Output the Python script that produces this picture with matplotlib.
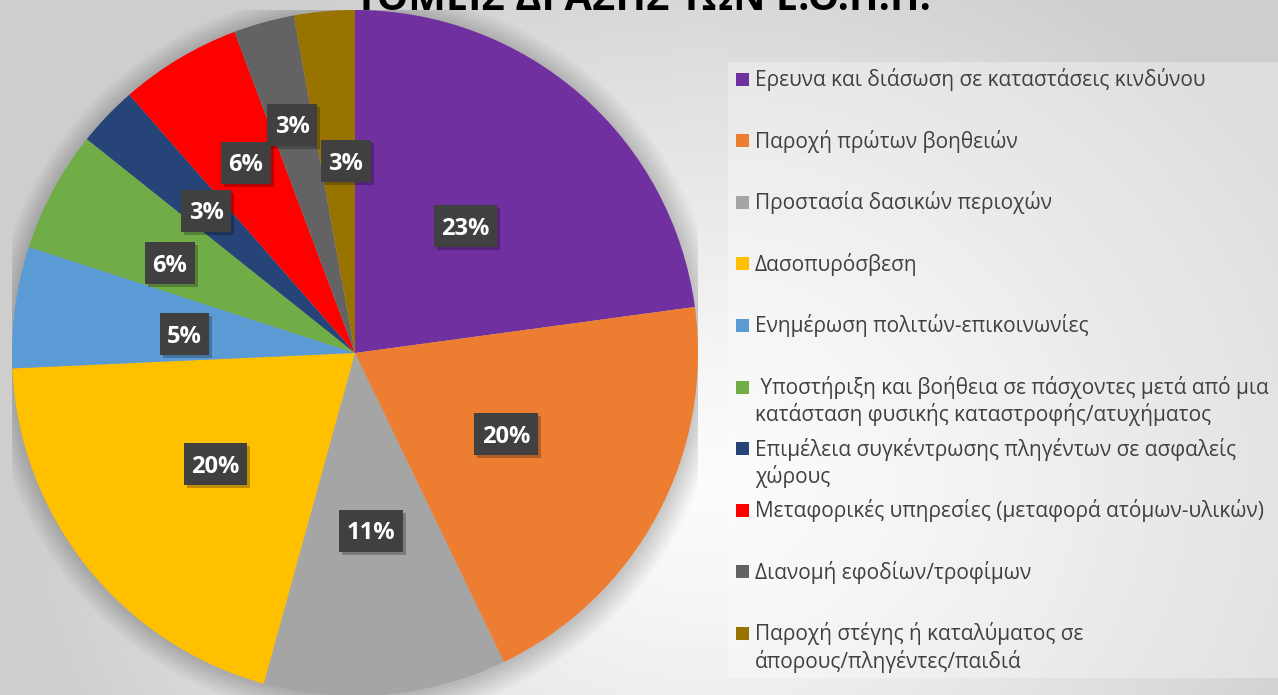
import numpy as np
import matplotlib
matplotlib.use('Agg')
import matplotlib.pyplot as plt
from matplotlib.patches import Rectangle, Circle
from matplotlib.transforms import offset_copy

# ---------------- data ----------------
title = 'ΤΟΜΕΙΣ ΔΡΑΣΗΣ ΤΩΝ Ε.Ο.Π.Π.'
categories = [
    'Ερευνα και διάσωση σε καταστάσεις κινδύνου',
    'Παροχή πρώτων βοηθειών',
    'Προστασία δασικών περιοχών',
    'Δασοπυρόσβεση',
    'Ενημέρωση πολιτών-επικοινωνίες',
    ' Υποστήριξη και βοήθεια σε πάσχοντες μετά από μια\nκατάσταση φυσικής καταστροφής/ατυχήματος',
    'Επιμέλεια συγκέντρωσης πληγέντων σε ασφαλείς\nχώρους',
    'Μεταφορικές υπηρεσίες (μεταφορά ατόμων-υλικών)',
    'Διανομή εφοδίων/τροφίμων',
    'Παροχή στέγης ή καταλύματος σε\nάπορους/πληγέντες/παιδιά',
]
counts = [8, 7, 4, 7, 2, 2, 1, 2, 1, 1]
pct_labels = ['23%', '20%', '11%', '20%', '5%', '6%', '3%', '6%', '3%', '3%']
colors = ['#7030A0', '#ED7D31', '#A5A5A5', '#FFC000', '#5B9BD5',
          '#70AD47', '#264478', '#FF0000', '#636363', '#997300']

# ---------------- figure ----------------
W, H = 1278, 695
fig = plt.figure(figsize=(W / 100, H / 100), dpi=100)

FONT = ['Open Sans', 'DejaVu Sans']

# background radial gradient
bg = fig.add_axes([0, 0, 1, 1])
bg.set_axis_off()
yy, xx = np.mgrid[0:H, 0:W]
d = np.sqrt(((xx - 700) / 650.0) ** 2 + ((yy - 480) / 560.0) ** 2)
v = 0.99 - 0.17 * np.clip(d, 0, 1.05) ** 1.2
bg.imshow(np.dstack([v, v, v]), extent=[0, W, H, 0], aspect='auto', zorder=0)
bg.set_xlim(0, W)
bg.set_ylim(H, 0)

# legend panel
bg.add_patch(Rectangle((728, 62), W - 728, 678 - 62, facecolor='white',
                       alpha=0.32, edgecolor='none', zorder=1))

# pie axes: centre (355,353) px, radius 343 px
R = 343
cxp, cyp = 355, 353
ax = fig.add_axes([(cxp - R) / W, (H - cyp - R) / H, 2 * R / W, 2 * R / H])
ax.set_axis_off()

# soft shadow
for i in range(16):
    ax.add_patch(Circle((0.004, -0.008), 1.0 + 0.0045 * i, facecolor='black',
                        alpha=0.011, edgecolor='none', zorder=0))

wedges, _ = ax.pie(counts, colors=colors, startangle=90, counterclock=False,
                   radius=1.0, wedgeprops=dict(linewidth=0, zorder=2))
ax.set_xlim(-1, 1)
ax.set_ylim(-1, 1)

# data labels
total = float(sum(counts))
label_r = [0.49, 0.50, 0.52, 0.52, 0.50, 0.60, 0.60, 0.64, 0.69, 0.56]
label_dt = [0, 0, 0, 0, 1.5, 2.5, 0, -1, 0, -2.4]
lab_fs = 17
digit_h = 0.714 * lab_fs * 100 / 72.0
text_tr = offset_copy(ax.transData, fig=fig, x=0, y=-digit_h / 2, units='dots')
label_texts = []
label_pts = []
cum = 0.0
for i, c in enumerate(counts):
    mid = 90 - 360 * (cum + c / 2.0) / total + label_dt[i]
    cum += c
    x = label_r[i] * np.cos(np.radians(mid))
    y = label_r[i] * np.sin(np.radians(mid))
    tt = ax.text(x, y, pct_labels[i], transform=text_tr, ha='center',
                 va='baseline', fontsize=lab_fs, fontweight='bold',
                 color='white', family=FONT, zorder=5)
    label_texts.append(tt)
    label_pts.append((x, y))

fig.canvas.draw()
inv = ax.transData.inverted()
box_h = 42
for tt, (x, y) in zip(label_texts, label_pts):
    bw = tt.get_window_extent().width + 15
    px, py = ax.transData.transform((x, y))
    for dx, dy, fc, al, z in [(3, -3, 'black', 0.25, 3), (0, 0, '#404040', 1.0, 4)]:
        (x0, y0) = inv.transform((px - bw / 2 + dx, py - box_h / 2 + dy))
        (x1, y1) = inv.transform((px + bw / 2 + dx, py + box_h / 2 + dy))
        ax.add_patch(Rectangle((x0, y0), x1 - x0, y1 - y0, facecolor=fc,
                               alpha=al, edgecolor='none', zorder=z))

# title (cut off at top, as in the reference)
t = fig.text(642.5 / W, 1 - 10.5 / H, title, ha='center', va='baseline',
             fontsize=30, fontweight='bold', color='black', family=FONT)
fig.canvas.draw()
tw = t.get_window_extent().width
t.set_fontsize(30 * 575.0 / tw)

# legend
probe = fig.text(0, 0, categories[0], fontsize=14, family=FONT)
fig.canvas.draw()
pw = probe.get_window_extent().width
probe.remove()
lfs = 14 * 456.0 / pw

for i, lab in enumerate(categories):
    yc = 79 + 61.6 * i
    bg.add_patch(Rectangle((736, yc - 6.5), 13, 13, facecolor=colors[i],
                           edgecolor='none', zorder=2))
    for k, line in enumerate(lab.split('\n')):
        bg.text(755, yc + 7 + 27.5 * k, line, ha='left', va='baseline',
                fontsize=lfs, color='#404040', family=FONT, zorder=3)

fig.savefig('out.png', dpi=100)
